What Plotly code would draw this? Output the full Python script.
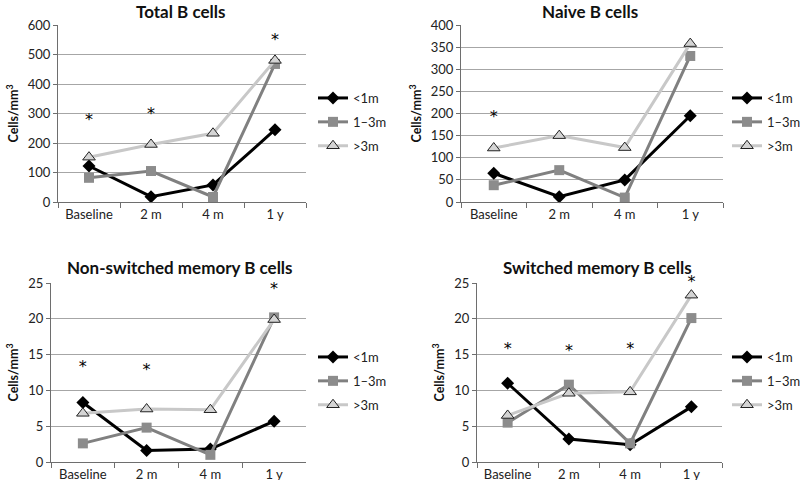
import plotly.graph_objects as go

times = ["Baseline", "2 m", "4 m", "1 y"]
groups = ["<1m", "1–3m", ">3m"]

titles = ["Total B cells", "Naive B cells",
          "Non-switched memory B cells", "Switched memory B cells"]

# values per panel, per group (<1m, 1-3m, >3m)
total_b = [[122, 18, 58, 245], [82, 105, 17, 468], [152, 195, 233, 480]]
naive_b = [[65, 12, 50, 195], [38, 72, 10, 330], [122, 150, 123, 358]]
nonsw_b = [[8.3, 1.6, 1.8, 5.7], [2.6, 4.8, 1.0, 20.2], [6.8, 7.4, 7.3, 19.9]]
switch_b = [[11.0, 3.2, 2.4, 7.7], [5.5, 10.8, 2.6, 20.1], [6.5, 9.6, 9.8, 23.3]]

# significance markers (*)
star_x = [["Baseline", "2 m", "1 y"], ["Baseline", "1 y"],
          ["Baseline", "2 m", "1 y"], ["Baseline", "2 m", "4 m", "1 y"]]
star_y = [[275, 295, 546], [190, 407], [13.1, 12.7, 24.0], [15.6, 15.4, 15.6, 25.0]]

y_max = [600, 400, 25, 25]
y_dtick = [100, 50, 5, 5]

panels = [total_b, naive_b, nonsw_b, switch_b]

W, H = 800, 480
# plot areas in pixels: (left, right, top, bottom)
boxes = [(58, 306, 25, 202), (461, 723, 25, 202),
         (51, 306, 283, 462), (477, 722, 283, 462)]
title_pos = [(180, 11), (590, 11), (180, 267), (597, 267)]
ytitle_x = [12, 415, 12, 438]
legend_x = [313, 727, 313, 727]
legend_y = [122, 122, 381, 381]


def px(v):
    return v / W


def py(v):
    return 1 - v / H


styles = [
    dict(line=dict(color="#000000", width=3),
         marker=dict(symbol="diamond", size=10, color="#000000")),
    dict(line=dict(color="#808080", width=3),
         marker=dict(symbol="square", size=10, color="#8c8c8c")),
    dict(line=dict(color="#c8c8c8", width=3),
         marker=dict(symbol="triangle-up", size=11, color="#d4d4d4",
                     line=dict(color="#222222", width=1))),
]

FONT = "Lato, Open Sans, sans-serif"

fig = go.Figure()
annotations = []
layout = {}
for i, data in enumerate(panels):
    n = "" if i == 0 else str(i + 1)
    xa, ya = "x" + n, "y" + n
    leg = "legend" + n
    for g, vals in enumerate(data):
        fig.add_trace(go.Scatter(
            x=times, y=vals, name=groups[g], mode="lines+markers",
            xaxis=xa, yaxis=ya, legend=leg, legendgroup=f"g{i}_{g}",
            cliponaxis=False, **styles[g]))
    fig.add_trace(go.Scatter(
        x=star_x[i], y=star_y[i], mode="text", text=["*"] * len(star_x[i]),
        textposition="middle center", cliponaxis=False,
        textfont=dict(size=16, color="black", family="DejaVu Sans"),
        xaxis=xa, yaxis=ya, showlegend=False, hoverinfo="skip"))

    l, r, t, b = boxes[i]
    layout["xaxis" + n] = dict(
        domain=[px(l), px(r)], anchor=ya, type="category",
        range=[-0.5, 3.5], showline=True, linecolor="#6e6e6e", linewidth=1,
        ticks="outside", tickson="boundaries", ticklen=5, tickcolor="#6e6e6e",
        showgrid=False, automargin=False,
        tickfont=dict(size=13, color="#222222", family=FONT))
    layout["yaxis" + n] = dict(
        domain=[py(b), py(t)], anchor=xa, range=[0, y_max[i]],
        dtick=y_dtick[i], showline=True, linecolor="#6e6e6e", linewidth=1,
        ticks="outside", ticklen=4, tickcolor="#6e6e6e", automargin=False,
        showgrid=True, gridcolor="#a6a6a6", gridwidth=1, zeroline=False,
        tickfont=dict(size=13, color="#222222", family=FONT))
    layout[leg] = dict(
        x=px(legend_x[i]), y=py(legend_y[i]), xanchor="left", yanchor="middle",
        bgcolor="rgba(0,0,0,0)", font=dict(size=13, color="#222222", family=FONT),
        tracegroupgap=4, itemwidth=30)

    tx, ty = title_pos[i]
    annotations.append(dict(
        text="<b>" + titles[i] + "</b>", x=px(tx), y=py(ty),
        xref="paper", yref="paper", xanchor="center", yanchor="middle",
        showarrow=False, font=dict(size=17, color="#111111", family=FONT)))
    annotations.append(dict(
        text="<b>Cells/mm<sup>3</sup></b>", x=px(ytitle_x[i]),
        y=py((t + b) / 2), xref="paper", yref="paper",
        xanchor="center", yanchor="middle", showarrow=False,
        textangle=-90, font=dict(size=12.5, color="#111111", family=FONT)))

fig.update_layout(
    width=W, height=H, margin=dict(l=0, r=0, t=0, b=0, autoexpand=False),
    paper_bgcolor="white", plot_bgcolor="white",
    annotations=annotations, **layout)

# drop the default page margin so the figure sits at the window's corner
fig.write_html("out.html", config={"displayModeBar": False},
               post_script="document.body.style.margin='0px';")
